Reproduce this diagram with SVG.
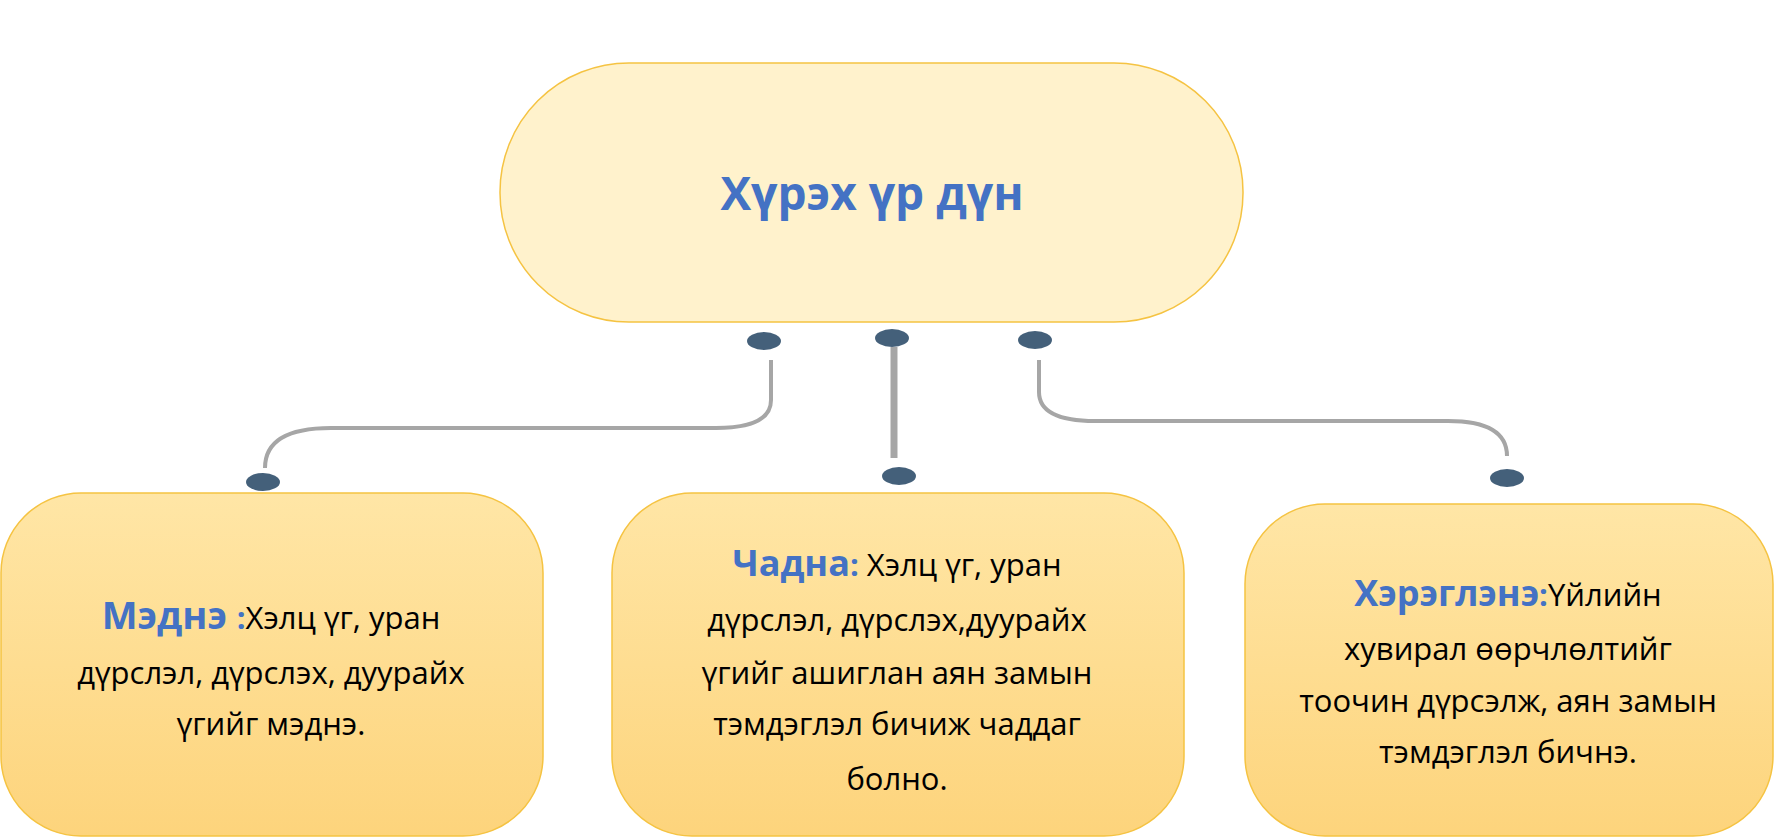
<svg xmlns="http://www.w3.org/2000/svg" width="1788" height="837" viewBox="0 0 1788 837">
<style>
text{font-family:"Open Sans","Liberation Sans",sans-serif;text-anchor:middle;fill:#000}
.b{font-size:31px}
.h{fill:#4472C4;font-weight:bold}
.box{fill:url(#g);stroke:#F5C342;stroke-width:1.5}
.dot{fill:#44607A}
.c{fill:none;stroke:#A6A6A6;stroke-width:4}
</style>
<defs>
<linearGradient id="g" x1="0" y1="0" x2="0" y2="1"><stop offset="0" stop-color="#FFE6A6"/><stop offset="1" stop-color="#FDD47C"/></linearGradient>
</defs>
<g id="connectors">
<path class="c" d="M771 360 V400 Q771 428 716 428 H331 Q265 428 265 468"/>
<path d="M894 347 V458" stroke="#A6A6A6" stroke-width="7" fill="none"/>
<path class="c" d="M1039 360 V392 Q1039 421 1095 421 H1448 Q1507 421 1507 456"/>
<ellipse class="dot" cx="764" cy="341" rx="17" ry="9"/>
<ellipse class="dot" cx="892" cy="338" rx="17" ry="9"/>
<ellipse class="dot" cx="1035" cy="340" rx="17" ry="9"/>
<ellipse class="dot" cx="263" cy="482" rx="17" ry="9"/>
<ellipse class="dot" cx="899" cy="476" rx="17" ry="9"/>
<ellipse class="dot" cx="1507" cy="478" rx="17" ry="9"/>
</g>
<g id="top">
<rect x="500" y="63" width="743" height="259" rx="129" fill="#FFF2CC" stroke="#F5C342" stroke-width="1.5"/>
<text x="872" y="210" class="h" font-size="46">Хүрэх үр дүн</text>
</g>
<g id="left">
<rect class="box" x="1" y="493" width="542" height="343" rx="80"/>
<text class="b" x="271" y="629"><tspan class="h" font-size="38">Мэднэ </tspan><tspan class="h">:</tspan>Хэлц үг, уран</text>
<text class="b" x="271" y="684">дүрслэл, дүрслэх, дуурайх</text>
<text class="b" x="271" y="735">үгийг мэднэ.</text>
</g>
<g id="middle">
<rect class="box" x="612" y="493" width="572" height="343" rx="80"/>
<text class="b" x="897" y="576"><tspan class="h" font-size="36">Чадна</tspan><tspan class="h">:</tspan> Хэлц үг, уран</text>
<text class="b" x="897" y="631">дүрслэл, дүрслэх,дуурайх</text>
<text class="b" x="897" y="684">үгийг ашиглан  аян замын</text>
<text class="b" x="897" y="735">тэмдэглэл бичиж чаддаг</text>
<text class="b" x="897" y="790">болно.</text>
</g>
<g id="right">
<rect class="box" x="1245" y="504" width="528" height="332" rx="80"/>
<text class="b" x="1508" y="606"><tspan class="h" font-size="36">Хэрэглэнэ</tspan><tspan class="h">:</tspan>Үйлийн</text>
<text class="b" x="1508" y="660">хувирал өөрчлөлтийг</text>
<text class="b" x="1508" y="712">тоочин дүрсэлж, аян замын</text>
<text class="b" x="1508" y="763">тэмдэглэл бичнэ.</text>
</g>
</svg>
